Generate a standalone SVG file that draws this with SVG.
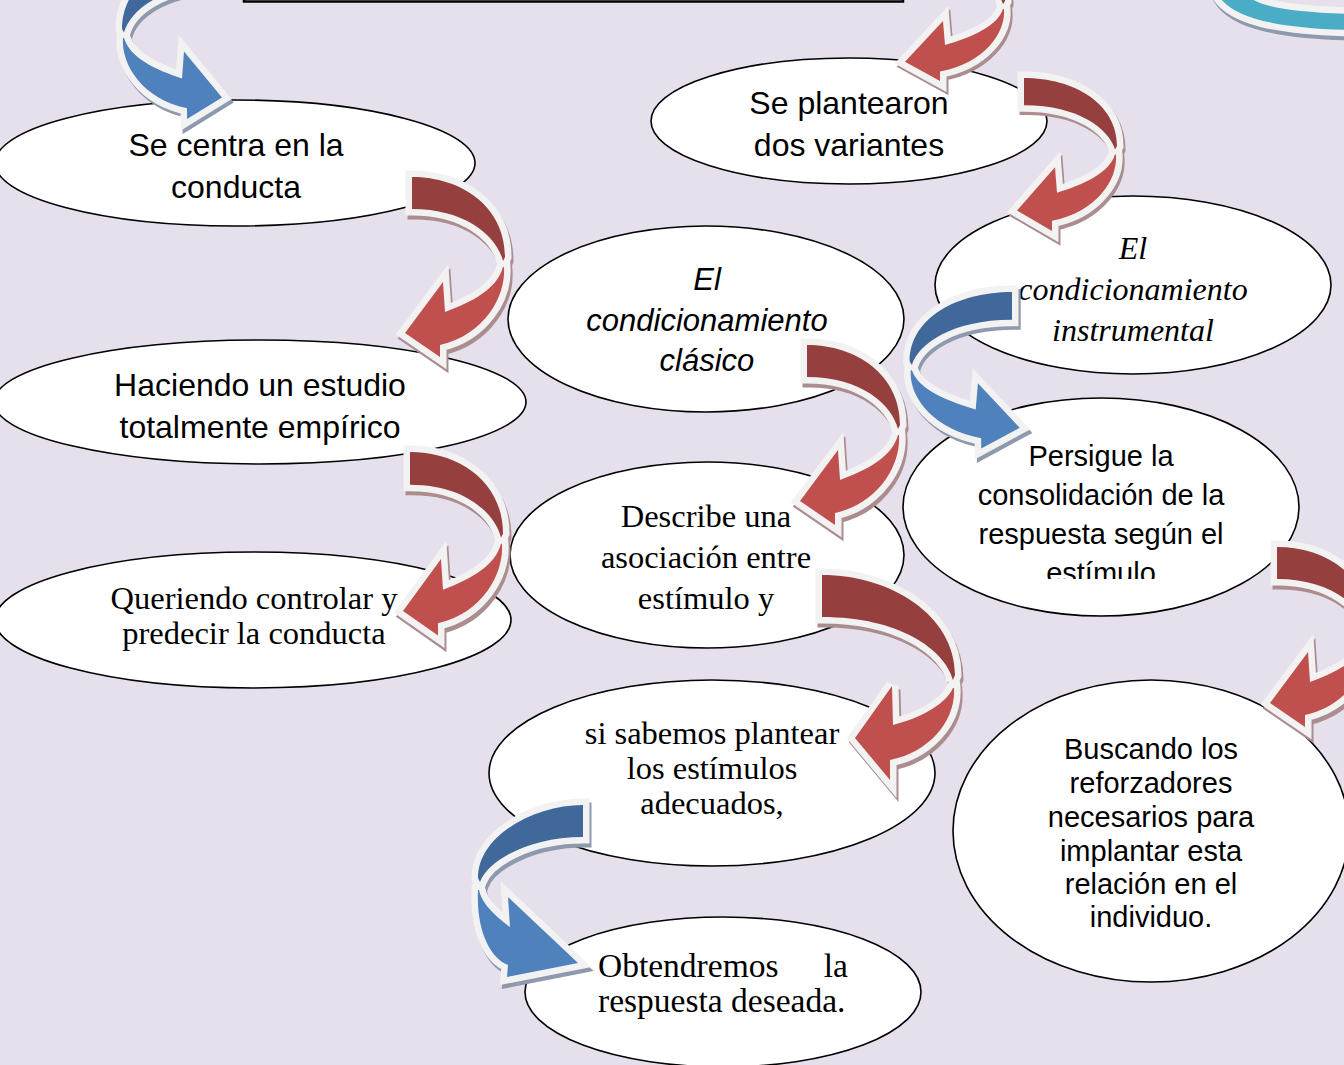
<svg xmlns="http://www.w3.org/2000/svg" xmlns:xlink="http://www.w3.org/1999/xlink" width="1344" height="1065" viewBox="0 0 1344 1065">
<style>
.node ellipse{fill:#fff;stroke:#000;stroke-width:1.6}
.sans{font-family:"Liberation Sans",Arial,sans-serif;text-anchor:middle;fill:#000}
.serif{font-family:"Liberation Serif","Times New Roman",serif;text-anchor:middle;fill:#000}
.s32{font-size:32px}.s31{font-size:31px}.s29{font-size:29px}.sr{font-size:32.5px}.sr2{font-size:33.5px}
.it{font-style:italic}
.wo{fill:#F2F2F2;stroke:#F2F2F2;stroke-width:13;stroke-linejoin:miter;stroke-miterlimit:3}
.shr{fill:#AB8D90;stroke:#AB8D90;stroke-width:13;stroke-linejoin:miter;stroke-miterlimit:3}
.shb{fill:#8F99AD;stroke:#8F99AD;stroke-width:13;stroke-linejoin:miter;stroke-miterlimit:3}
.rd{fill:#963F3F}.rl{fill:#C0504D}.bd{fill:#41689A}.bl{fill:#4F81BD}
</style>
<defs>
<path id="dp" vector-effect="non-scaling-stroke" d="M0,0 C50,0 93,30 93,80 L91,84 C85,60 55,32 0,32 Z"/>
<path id="lp" vector-effect="non-scaling-stroke" d="M92,90 C94,120 72,158 28,168 L28,180 L-7,156 L31,105 L33,135 C60,125 85,112 91,90 Z"/>
<g id="redA">
<g transform="translate(2,4)"><use href="#dp" class="shr"/><use href="#lp" class="shr"/></g>
<use href="#dp" class="wo"/><use href="#lp" class="wo"/>
<use href="#dp" class="rd"/><use href="#lp" class="rl"/>
</g>
<g id="blueA">
<g transform="translate(-2,4)"><use href="#dp" class="shb"/><use href="#lp" class="shb"/></g>
<use href="#dp" class="wo"/><use href="#lp" class="wo"/>
<use href="#dp" class="bd"/><use href="#lp" class="bl"/>
</g>
<clipPath id="clip6"><rect x="900" y="390" width="410" height="189"/></clipPath>
</defs>
<rect x="0" y="0" width="1344" height="1065" fill="#E5E0EC"/>
<rect x="244" y="-30" width="659" height="31.5" fill="#fff" stroke="#000" stroke-width="2.5"/>

<g id="n1" class="node"><ellipse cx="235" cy="163" rx="240" ry="63"/>
<text class="sans s32" x="236" y="156">Se centra en la</text><text class="sans s32" x="236" y="198">conducta</text></g>
<g id="n2" class="node"><ellipse cx="849" cy="121" rx="198" ry="63"/>
<text class="sans s32" x="849" y="114">Se plantearon</text><text class="sans s32" x="849" y="156">dos variantes</text></g>
<g id="n3" class="node"><ellipse cx="706" cy="319" rx="198" ry="93"/>
<text class="sans s31 it" x="707" y="290">El</text><text class="sans s31 it" x="707" y="331">condicionamiento</text><text class="sans s31 it" x="707" y="371">clásico</text></g>
<g id="n4" class="node"><ellipse cx="1133" cy="285" rx="198" ry="89"/>
<text class="serif s32 it" x="1133" y="259">El</text><text class="serif s32 it" x="1133" y="300">condicionamiento</text><text class="serif s32 it" x="1133" y="341">instrumental</text></g>
<g id="n5" class="node"><ellipse cx="260" cy="402" rx="266" ry="62"/>
<text class="sans s32" x="260" y="396">Haciendo un estudio</text><text class="sans s32" x="260" y="438">totalmente empírico</text></g>
<g id="n6" class="node"><ellipse cx="1101" cy="507" rx="198" ry="109"/>
<g clip-path="url(#clip6)"><text class="sans s29" x="1101" y="466">Persigue la</text><text class="sans s29" x="1101" y="505">consolidación de la</text><text class="sans s29" x="1101" y="544">respuesta según el</text><text class="sans s29" x="1101" y="583">estímulo</text></g></g>
<g id="n7" class="node"><ellipse cx="707" cy="555" rx="197" ry="93"/>
<text class="serif sr" x="706" y="527">Describe una</text><text class="serif sr" x="706" y="568">asociación entre</text><text class="serif sr" x="706" y="609">estímulo y</text></g>
<g id="n8" class="node"><ellipse cx="253" cy="620" rx="258" ry="68"/>
<text class="serif sr" x="254" y="609">Queriendo controlar y</text><text class="serif sr" x="254" y="644">predecir la conducta</text></g>
<g id="n9" class="node"><ellipse cx="712" cy="773" rx="223" ry="93"/>
<text class="serif sr" x="712" y="744">si sabemos plantear</text><text class="serif sr" x="712" y="779">los estímulos</text><text class="serif sr" x="712" y="814">adecuados,</text></g>
<g id="n10" class="node"><ellipse cx="1151" cy="831" rx="198" ry="151"/>
<text class="sans s29" x="1151" y="759">Buscando los</text><text class="sans s29" x="1151" y="793">reforzadores</text><text class="sans s29" x="1151" y="827">necesarios para</text><text class="sans s29" x="1151" y="861">implantar esta</text><text class="sans s29" x="1151" y="894">relación en el</text><text class="sans s29" x="1151" y="927">individuo.</text></g>
<g id="n11" class="node"><ellipse cx="723" cy="992" rx="198" ry="75"/>
<text class="serif sr2" x="598" y="977" style="text-anchor:start">Obtendremos</text><text class="serif sr2" x="848" y="977" style="text-anchor:end">la</text><text class="serif sr2" x="598" y="1012" style="text-anchor:start">respuesta deseada.</text></g>

<g id="connectors">
<use href="#blueA" transform="translate(215,-43) scale(-1,0.9)"/>
<use href="#redA" transform="translate(912,-63) scale(1,0.8)"/>
<use href="#redA" transform="translate(1024,78) scale(1,0.85)"/>
<use href="#redA" transform="translate(412,177)"/>
<use href="#redA" transform="translate(410,452) scale(1,1.02)"/>
<use href="#blueA" transform="translate(1012,292) scale(-1.1,0.87)"/>
<use href="#redA" transform="translate(807,345)"/>
<use href="#redA" transform="translate(1277,547)"/>
<g id="arrowD">
<g transform="translate(2,4)" class="shr"><path d="M822,575 C890,575 955,615 955,675 L953,680 C945,650 900,617 822,617 Z"/><path d="M954,688 C956,720 930,752 890,760 L890,780 L855,738 L892,686 L893,725 C920,718 945,705 953,688 Z"/></g>
<g class="wo"><path d="M822,575 C890,575 955,615 955,675 L953,680 C945,650 900,617 822,617 Z"/><path d="M954,688 C956,720 930,752 890,760 L890,780 L855,738 L892,686 L893,725 C920,718 945,705 953,688 Z"/></g>
<path class="rd" d="M822,575 C890,575 955,615 955,675 L953,680 C945,650 900,617 822,617 Z"/><path class="rl" d="M954,688 C956,720 930,752 890,760 L890,780 L855,738 L892,686 L893,725 C920,718 945,705 953,688 Z"/>
</g>
<g id="arrowB3">
<g transform="translate(2,4)" class="shb"><path d="M583,805 C535,805 478,835 478,878 L480,882 C488,860 530,837 583,837 Z"/><path d="M478,890 C476,930 490,958 508,965 L507,977 L578,963 L508,897 L510,927 C498,918 482,905 479,890 Z"/></g>
<g class="wo"><path d="M583,805 C535,805 478,835 478,878 L480,882 C488,860 530,837 583,837 Z"/><path d="M478,890 C476,930 490,958 508,965 L507,977 L578,963 L508,897 L510,927 C498,918 482,905 479,890 Z"/></g>
<path class="bd" d="M583,805 C535,805 478,835 478,878 L480,882 C488,860 530,837 583,837 Z"/><path class="bl" d="M478,890 C476,930 490,958 508,965 L507,977 L578,963 L508,897 L510,927 C498,918 482,905 479,890 Z"/>
</g>
<g id="arrowC">
<path transform="translate(2,4)" class="shb" d="M1218,-5 C1232,18 1275,28 1350,30 L1350,14 C1290,12 1255,6 1248,-5 Z"/>
<path class="wo" d="M1218,-5 C1232,18 1275,28 1350,30 L1350,14 C1290,12 1255,6 1248,-5 Z"/>
<path fill="#4BACC6" d="M1218,-5 C1232,18 1275,28 1350,30 L1350,14 C1290,12 1255,6 1248,-5 Z"/>
</g>
</g>
</svg>
